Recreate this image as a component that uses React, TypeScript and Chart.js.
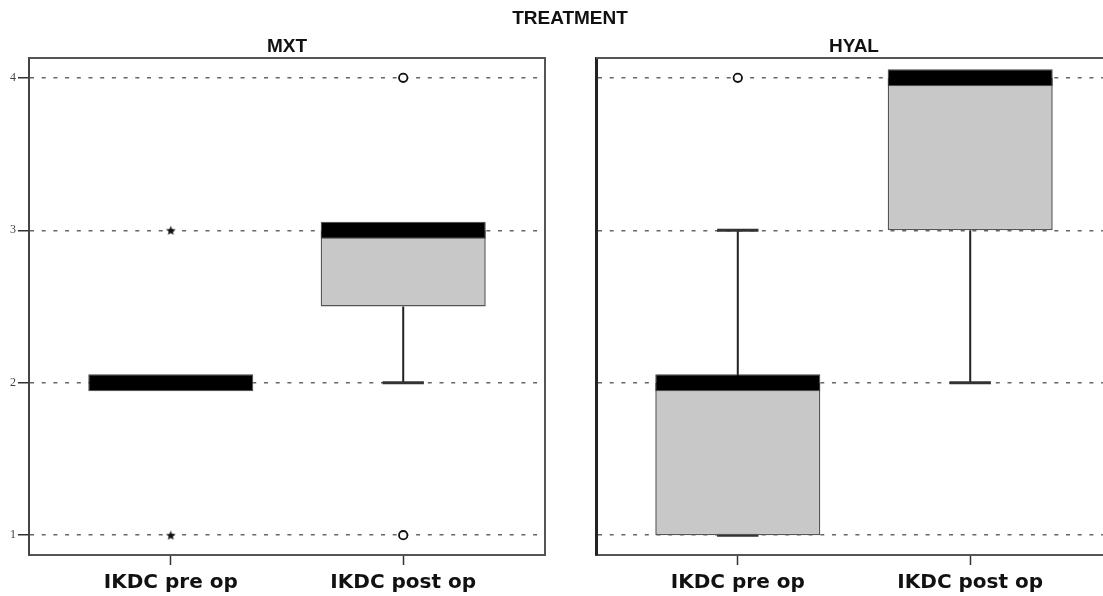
import React, { useEffect, useRef } from 'react';
import { Chart, registerables } from 'chart.js';

Chart.register(...registerables);

// ---------------- data ----------------
const figureTitle = 'TREATMENT';
const categories = ['IKDC pre op', 'IKDC post op'];
const xPositions = [1, 2];
const yTicks = [1, 2, 3, 4];

const mxtTitle = 'MXT';
const mxtQ1 = [2, 2.5];
const mxtMedian = [2, 3];
const mxtQ3 = [2, 3];
const mxtWhiskerLow = [2, 2];
const mxtWhiskerHigh = [2, 3];
const mxtOutliers = [[], [4, 1]]; // circles
const mxtExtremes = [[3, 1], []]; // stars

const hyalTitle = 'HYAL';
const hyalQ1 = [1, 3];
const hyalMedian = [2, 4];
const hyalQ3 = [2, 4];
const hyalWhiskerLow = [1, 2];
const hyalWhiskerHigh = [3, 4];
const hyalOutliers = [[4], []];
const hyalExtremes = [[], []];

// ---------------- styles ----------------
const MED_HALF = 0.056;
const CAP_HALF = 0.089;
const BOX_FILL = '#c8c8c8';

type Panel = {
  q1: number[];
  median: number[];
  q3: number[];
  lo: number[];
  hi: number[];
  outliers: number[][];
  extremes: number[][];
};

function makeStar(): HTMLCanvasElement {
  const size = 11;
  const c = document.createElement('canvas');
  c.width = size;
  c.height = size;
  const ctx = c.getContext('2d')!;
  const cx = size / 2;
  const cy = size / 2 + 0.5;
  const outer = 5;
  const inner = 2.2;
  ctx.beginPath();
  for (let k = 0; k < 10; k++) {
    const r = k % 2 === 0 ? outer : inner;
    const a = -Math.PI / 2 + (k * Math.PI) / 5;
    const px = cx + r * Math.cos(a);
    const py = cy + r * Math.sin(a);
    if (k === 0) ctx.moveTo(px, py);
    else ctx.lineTo(px, py);
  }
  ctx.closePath();
  ctx.fillStyle = '#111';
  ctx.fill();
  return c;
}

const framePlugin = {
  id: 'frame',
  afterDraw(chart: any) {
    const { ctx, chartArea } = chart;
    const { left, right, top, bottom } = chartArea;
    ctx.save();
    ctx.strokeStyle = '#555';
    ctx.lineWidth = 2;
    ctx.beginPath();
    ctx.moveTo(left, top);
    ctx.lineTo(right, top);
    ctx.lineTo(right, bottom);
    ctx.stroke();
    ctx.restore();
  },
};

function buildConfig(p: Panel, showY: boolean, star: HTMLCanvasElement): any {
  const stems: any[] = [];
  const caps: any[] = [];
  xPositions.forEach((x, i) => {
    stems.push({ x, y: p.q3[i] }, { x, y: p.hi[i] }, { x, y: null });
    stems.push({ x, y: p.q1[i] }, { x, y: p.lo[i] }, { x, y: null });
    caps.push({ x: x - CAP_HALF, y: p.hi[i] }, { x: x + CAP_HALF, y: p.hi[i] }, { x, y: null });
    caps.push({ x: x - CAP_HALF, y: p.lo[i] }, { x: x + CAP_HALF, y: p.lo[i] }, { x, y: null });
  });
  const outPts: any[] = [];
  const extPts: any[] = [];
  xPositions.forEach((x, i) => {
    p.outliers[i].forEach((v) => outPts.push({ x, y: v }));
    p.extremes[i].forEach((v) => extPts.push({ x, y: v }));
  });

  return {
    type: 'bar',
    data: {
      datasets: [
        {
          type: 'scatter',
          data: outPts,
          pointStyle: 'circle',
          pointRadius: 4.2,
          pointBackgroundColor: '#fff',
          pointBorderColor: '#111',
          pointBorderWidth: 1.8,
          order: 0,
        },
        {
          type: 'scatter',
          data: extPts,
          pointStyle: star,
          pointRadius: 5,
          order: 0,
        },
        {
          type: 'bar',
          data: xPositions.map((x, i) => ({ x, y: [p.median[i] - MED_HALF, p.median[i] + MED_HALF] })),
          backgroundColor: '#000',
          borderColor: '#444',
          borderWidth: 1,
          borderSkipped: false,
          grouped: false,
          barPercentage: 0.71,
          categoryPercentage: 1,
          order: 1,
        },
        {
          type: 'bar',
          data: xPositions.map((x, i) => ({ x, y: [p.q1[i], p.q3[i]] })),
          backgroundColor: BOX_FILL,
          borderColor: '#555',
          borderWidth: 1.5,
          borderSkipped: false,
          grouped: false,
          barPercentage: 0.71,
          categoryPercentage: 1,
          order: 2,
        },
        {
          type: 'line',
          data: caps,
          borderColor: '#333',
          borderWidth: 3,
          pointRadius: 0,
          spanGaps: false,
          order: 3,
        },
        {
          type: 'line',
          data: stems,
          borderColor: '#222',
          borderWidth: 2,
          pointRadius: 0,
          spanGaps: false,
          order: 3,
        },
      ],
    },
    options: {
      animation: false,
      responsive: false,
      layout: { padding: { top: 58, right: 15, left: 0, bottom: 0 } },
      plugins: { legend: { display: false }, tooltip: { enabled: false }, title: { display: false } },
      scales: {
        x: {
          type: 'linear',
          min: 0.39,
          max: 2.61,
          offset: false,
          afterBuildTicks: (axis: any) => {
            axis.ticks = xPositions.map((v) => ({ value: v }));
          },
          afterFit: (axis: any) => {
            axis.height = 41;
          },
          grid: {
            offset: false,
            drawOnChartArea: false,
            drawTicks: true,
            tickLength: 10,
            tickColor: '#333',
            tickWidth: 1.5,
          },
          border: { display: true, color: '#555', width: 2 },
          ticks: {
            autoSkip: false,
            maxRotation: 0,
            padding: 6,
            color: '#111',
            font: { family: 'DejaVu Sans', weight: 'bold', size: 20 },
            callback: (v: any) => {
              const idx = xPositions.indexOf(Number(v));
              return idx >= 0 ? categories[idx] : '';
            },
          },
        },
        y: {
          type: 'linear',
          min: 0.87,
          max: 4.13,
          afterBuildTicks: (axis: any) => {
            axis.ticks = yTicks.map((v) => ({ value: v }));
          },
          afterFit: (axis: any) => {
            axis.width = 29;
          },
          grid: {
            color: '#666',
            lineWidth: 1.5,
            drawTicks: showY,
            tickLength: 11,
            tickColor: '#333',
            tickWidth: 1.5,
            tickBorderDash: [],
          },
          border: {
            display: true,
            color: showY ? '#444' : '#222',
            width: showY ? 2 : 3,
            dash: [4, 7.7],
          },
          ticks: {
            display: showY,
            padding: 2,
            color: '#444',
            font: { family: 'Liberation Serif', size: 12 },
            callback: (v: any) => String(v),
          },
        },
      },
    },
    plugins: [framePlugin],
  };
}

function BoxPanel({ panel, showY, left }: { panel: Panel; showY: boolean; left: number }) {
  const ref = useRef<HTMLCanvasElement | null>(null);
  useEffect(() => {
    if (!ref.current) return;
    const chart = new Chart(ref.current, buildConfig(panel, showY, makeStar()));
    return () => chart.destroy();
  }, []);
  return (
    <canvas
      ref={ref}
      width={560}
      height={596}
      style={{ position: 'absolute', left, top: 0, width: 560, height: 596, display: 'block' }}
    />
  );
}

const titleStyle: React.CSSProperties = {
  position: 'absolute',
  textAlign: 'center',
  fontFamily: '"Liberation Sans", Arial, sans-serif',
  fontWeight: 'bold',
  fontSize: 19,
  lineHeight: '20px',
  color: '#111',
  whiteSpace: 'nowrap',
};

export default function App() {
  const mxt: Panel = {
    q1: mxtQ1,
    median: mxtMedian,
    q3: mxtQ3,
    lo: mxtWhiskerLow,
    hi: mxtWhiskerHigh,
    outliers: mxtOutliers,
    extremes: mxtExtremes,
  };
  const hyal: Panel = {
    q1: hyalQ1,
    median: hyalMedian,
    q3: hyalQ3,
    lo: hyalWhiskerLow,
    hi: hyalWhiskerHigh,
    outliers: hyalOutliers,
    extremes: hyalExtremes,
  };
  return (
    <div
      style={{
        position: 'absolute',
        left: 0,
        top: 0,
        width: 1103,
        height: 596,
        overflow: 'hidden',
        background: '#fff',
      }}
    >
      <BoxPanel panel={mxt} showY={true} left={0} />
      <BoxPanel panel={hyal} showY={false} left={567} />
      <div style={{ ...titleStyle, left: 0, width: 1140, top: 8 }}>{figureTitle}</div>
      <div style={{ ...titleStyle, left: 29, width: 516, top: 36 }}>{mxtTitle}</div>
      <div style={{ ...titleStyle, left: 596, width: 516, top: 36 }}>{hyalTitle}</div>
    </div>
  );
}
